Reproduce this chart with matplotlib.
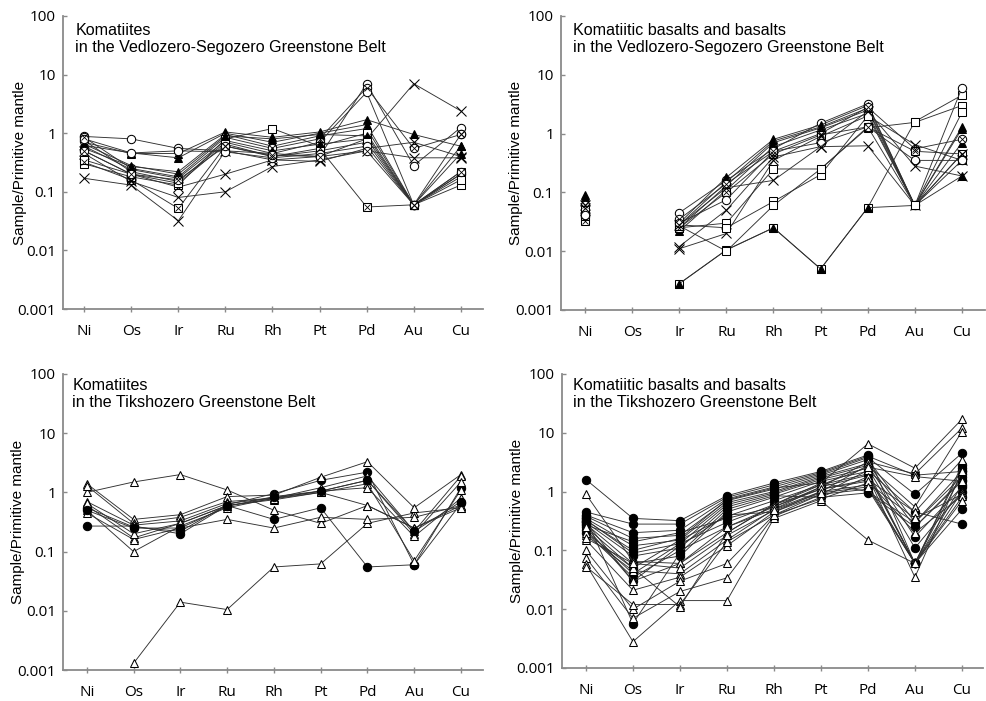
import numpy as np
import matplotlib
matplotlib.use("Agg")
import matplotlib.pyplot as plt

nan = np.nan

elements = ["Ni", "Os", "Ir", "Ru", "Rh", "Pt", "Pd", "Au", "Cu"]
y_ticks = [0.001, 0.01, 0.1, 1, 10, 100]
y_tick_labels = ["0.001", "0.01", "0.1", "1", "10", "100"]

titles = [
    "Komatiites\nin the Vedlozero-Segozero Greenstone Belt",
    "Komatiitic basalts and basalts\nin the Vedlozero-Segozero Greenstone Belt",
    "Komatiites\nin the Tikshozero Greenstone Belt",
    "Komatiitic basalts and basalts\nin the Tikshozero Greenstone Belt",
]

# sample symbols: o open circle, of filled circle, ^ open triangle, ^f filled
# triangle, s open square, x cross, sx / ox square or circle with a cross
vs_komatiite_symbols = ["o", "^f", "^f", "^f", "ox", "o", "sx", "s",
                        "x", "x", "x", "^f", "^f", "s", "o", "ox"]
vs_komatiite = [
    [0.88, 0.80, 0.55, 0.50, 0.45, 0.40, 7.0, 0.28, 1.25],
    [0.70, 0.45, 0.45, 1.05, 0.85, 1.05, 1.70, 0.95, 0.60],
    [0.62, 0.46, 0.38, 1.00, 0.70, 1.00, 1.40, 0.06, 0.45],
    [0.55, 0.27, 0.22, 0.95, 0.60, 0.90, 1.20, 0.06, 0.60],
    [0.85, 0.25, 0.18, 0.85, 0.55, 0.80, 6.0, 0.55, 0.95],
    [0.75, 0.22, 0.15, 0.70, 0.45, 0.70, 5.0, 0.06, 0.20],
    [0.32, 0.16, 0.052, 0.60, 0.40, 0.55, 0.055, 0.06, 0.22],
    [0.30, 0.18, 0.13, 0.80, 1.20, 0.60, 1.00, 0.06, 0.13],
    [0.17, 0.13, 0.032, 0.50, 0.35, 0.40, 0.80, 7.0, 2.4],
    [0.45, 0.15, 0.08, 0.10, 0.27, 0.35, 0.50, 0.38, 0.38],
    [0.50, 0.20, 0.12, 0.20, 0.35, 0.33, 0.55, 0.70, 0.40],
    [0.65, 0.28, 0.20, 0.90, 0.80, 0.95, 0.90, 0.06, 0.20],
    [0.60, 0.24, 0.17, 0.75, 0.50, 0.65, 0.80, 0.06, 0.18],
    [0.35, 0.20, 0.14, 0.65, 0.40, 0.50, 0.70, 0.06, 0.16],
    [0.80, 0.46, 0.50, 0.48, 0.38, 0.45, 0.60, 0.06, 0.22],
    [0.50, 0.20, 0.16, 0.60, 0.42, 0.40, 0.50, 0.06, 0.95],
]

vs_basalt_symbols = ["s", "^f", "o", "^f", "^f", "^f", "^f", "ox",
                     "sx", "x", "x", "s", "s", "s", "o", "x"]
vs_basalt = [
    [0.035, nan, 0.0028, 0.0105, 0.025, 0.005, 0.055, 1.60, 4.5],
    [0.090, nan, 0.0028, 0.0105, 0.025, 0.005, 0.055, 0.06, 0.19],
    [0.040, nan, 0.045, 0.16, 0.55, 1.50, 3.2, 0.06, 6.0],
    [0.085, nan, 0.030, 0.18, 0.80, 1.40, 3.0, 0.06, 1.3],
    [0.075, nan, 0.028, 0.15, 0.75, 1.30, 2.7, 0.06, 0.7],
    [0.070, nan, 0.025, 0.13, 0.70, 1.25, 2.5, 0.06, 0.45],
    [0.065, nan, 0.022, 0.11, 0.60, 1.15, 2.2, 0.06, 1.2],
    [0.060, nan, 0.035, 0.14, 0.50, 1.00, 2.8, 0.55, 0.8],
    [0.033, nan, 0.025, 0.10, 0.45, 0.95, 1.3, 0.50, 0.45],
    [0.060, nan, 0.012, 0.05, 0.40, 0.60, 0.62, 0.06, 0.45],
    [0.050, nan, 0.011, 0.02, 0.35, 0.90, 2.0, 0.65, 0.35],
    [0.040, nan, 0.025, 0.03, 0.25, 0.25, 1.25, 1.55, 3.0],
    [0.045, nan, 0.028, 0.025, 0.07, 0.20, 2.0, 0.06, 2.3],
    [0.050, nan, 0.027, 0.010, 0.06, 0.25, 1.3, 0.06, 0.35],
    [0.042, nan, 0.030, 0.075, 0.50, 0.70, 1.3, 0.35, 0.35],
    [0.055, nan, 0.028, 0.12, 0.16, 0.60, 2.4, 0.28, 0.19],
]

tk_komatiite_symbols = ["^", "^", "of", "of", "^", "^", "^", "^",
                        "^", "^", "^", "of"]
tk_komatiite = [
    [1.00, 1.50, 2.00, 1.10, 0.50, 0.30, 0.60, 0.25, 0.60],
    [nan, 0.0013, 0.014, 0.0105, 0.055, 0.062, 0.30, 0.45, 0.55],
    [0.27, 0.27, 0.20, 0.60, 0.35, 0.55, 0.055, 0.06, 1.20],
    [0.55, 0.26, 0.22, 0.62, 0.95, 1.60, 2.20, 0.06, 0.65],
    [1.40, 0.35, 0.42, 0.85, 0.90, 1.80, 3.30, 0.55, 2.00],
    [1.30, 0.30, 0.38, 0.70, 0.80, 1.20, 1.90, 0.22, 1.90],
    [0.70, 0.28, 0.33, 0.65, 0.80, 1.05, 1.60, 0.20, 1.50],
    [0.60, 0.17, 0.30, 0.60, 0.75, 1.00, 1.40, 0.07, 1.10],
    [0.50, 0.10, 0.27, 0.55, 0.80, 1.05, 1.20, 0.18, 0.80],
    [0.45, 0.16, 0.25, 0.35, 0.25, 0.38, 0.35, 0.38, 0.60],
    [0.65, 0.20, 0.30, 0.60, 0.78, 1.00, 0.60, 0.25, 0.55],
    [0.50, 0.25, 0.25, 0.58, 0.85, 1.05, 1.60, 0.22, 0.70],
]

tk_basalt_symbols = ["of"] * 15 + ["^"] * 10
tk_basalt = [
    [1.60, 0.35, 0.32, 0.85, 1.40, 2.20, 4.20, 0.06, 2.50],
    [0.45, 0.28, 0.28, 0.80, 1.30, 2.10, 4.00, 1.90, 2.20],
    [0.40, 0.20, 0.22, 0.75, 1.20, 2.00, 3.80, 0.90, 4.50],
    [0.38, 0.16, 0.18, 0.70, 1.10, 1.90, 3.50, 0.30, 1.80],
    [0.35, 0.12, 0.15, 0.65, 1.00, 1.80, 3.00, 0.25, 1.50],
    [0.33, 0.09, 0.13, 0.60, 0.95, 1.70, 2.80, 0.17, 1.20],
    [0.30, 0.08, 0.11, 0.55, 0.90, 1.60, 2.50, 0.11, 1.00],
    [0.28, 0.06, 0.08, 0.45, 0.80, 1.50, 2.20, 0.06, 0.80],
    [0.25, 0.05, 0.15, 0.38, 0.70, 1.30, 2.00, 0.06, 0.50],
    [0.22, 0.04, 0.13, 0.30, 0.60, 1.10, 1.60, 0.45, 0.28],
    [0.20, 0.035, 0.10, 0.25, 0.50, 1.00, 1.30, 0.06, 2.00],
    [0.30, 0.03, 0.12, 0.40, 0.45, 0.90, 1.10, 0.06, 1.30],
    [0.35, 0.0057, 0.09, 0.50, 0.85, 0.80, 0.95, 0.25, 1.60],
    [0.32, 0.10, 0.16, 0.72, 1.15, 1.40, 1.00, 0.30, 2.20],
    [0.27, 0.14, 0.20, 0.35, 0.55, 1.20, 1.90, 0.06, 2.80],
    [0.90, 0.065, 0.06, 0.20, 0.60, 1.40, 6.50, 2.50, 17.0],
    [0.18, 0.045, 0.04, 0.15, 0.50, 1.20, 3.20, 2.00, 12.0],
    [0.15, 0.021, 0.035, 0.12, 0.45, 1.00, 2.80, 0.55, 10.5],
    [0.10, 0.010, 0.030, 0.06, 0.40, 0.90, 2.30, 0.45, 3.5],
    [0.075, 0.007, 0.020, 0.034, 0.38, 0.80, 1.80, 0.035, 2.2],
    [0.058, 0.0028, 0.014, 0.014, 0.35, 0.70, 0.15, 0.06, 1.0],
    [0.053, 0.012, 0.012, 0.14, 0.40, 0.75, 1.40, 0.35, 0.9],
    [0.20, 0.050, 0.011, 0.20, 0.60, 1.30, 2.60, 1.80, 1.5],
    [0.25, 0.030, 0.060, 0.25, 0.55, 1.10, 1.50, 0.20, 0.85],
    [0.16, 0.060, 0.050, 0.18, 0.48, 0.95, 1.20, 0.06, 0.70],
]

panels = [
    (vs_komatiite, vs_komatiite_symbols),
    (vs_basalt, vs_basalt_symbols),
    (tk_komatiite, tk_komatiite_symbols),
    (tk_basalt, tk_basalt_symbols),
]

# axes rectangles in figure fraction, x limits and y-label offsets per panel
rects = [
    [0.0638, 0.5592, 0.4255, 0.4180],
    [0.5684, 0.5578, 0.4296, 0.4194],
    [0.0638, 0.0442, 0.4255, 0.4223],
    [0.5694, 0.0471, 0.4266, 0.4194],
]
xlims = [(-0.45, 8.47), (-0.51, 8.49), (-0.51, 8.47), (-0.51, 8.45)]
label_x = [-0.086, -0.09, -0.09, -0.09]
title_pos = [(0.029, 0.975), (0.029, 0.975), (0.022, 0.985), (0.026, 0.985)]

axis_grey = "#8a8a8a"
line_grey = "#303030"


def draw_sample(ax, x, y, sym):
    base = sym[0]
    filled = sym.endswith("f")
    ax.plot(x, y, color=line_grey, lw=0.65, marker=base,
            ms=6 if base != "x" else 6.5,
            mfc="black" if filled else "white", mec="black", mew=0.75, zorder=2)
    if len(sym) > 1 and sym[1] == "x":
        ax.plot(x, y, ls="none", marker="x", ms=4.5, mec="black", mew=0.6, zorder=3)


fig = plt.figure(figsize=(9.87, 7.01), dpi=100)
plt.rcParams["font.family"] = ["Liberation Sans", "DejaVu Sans"]

for i, ((data, symbols), rect, xl, title) in enumerate(zip(panels, rects, xlims, titles)):
    ax = fig.add_axes(rect)
    x = np.arange(len(elements))
    for row, sym in zip(data, symbols):
        draw_sample(ax, x, np.array(row, dtype=float), sym)

    ax.set_yscale("log")
    ax.set_ylim(0.001, 100)
    ax.set_xlim(*xl)
    ax.set_yticks(y_ticks)
    ax.set_yticklabels(y_tick_labels, fontsize=11, family="Open Sans")
    ax.minorticks_off()
    ax.set_xticks(x)
    ax.set_xticklabels(elements, fontsize=11, family="Open Sans")
    ax.tick_params(axis="y", direction="in", length=3, color=axis_grey, width=1, pad=5)
    ax.tick_params(axis="x", direction="inout", length=5, color=axis_grey, width=1, pad=8)
    for side in ("top", "right"):
        ax.spines[side].set_visible(False)
    for side in ("left", "bottom"):
        ax.spines[side].set_color(axis_grey)
        ax.spines[side].set_linewidth(1.3)
    ax.set_ylabel("Sample/Primitive mantle", fontsize=11)
    ax.yaxis.set_label_coords(label_x[i], 0.5)
    ax.text(title_pos[i][0], title_pos[i][1], title, transform=ax.transAxes,
            ha="left", va="top", fontsize=11.6, linespacing=1.15)

fig.savefig("out.png", dpi=100)
